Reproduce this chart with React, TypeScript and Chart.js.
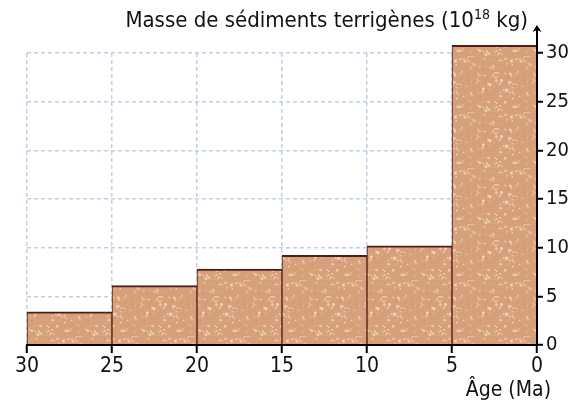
import React, { useEffect, useRef } from "react";
import { Chart, registerables } from "chart.js";

Chart.register(...registerables);

// ---- data ----
const binStarts = [30, 25, 20, 15, 10, 5];
const binEnds = [25, 20, 15, 10, 5, 0];
const masses = [3.4, 6.1, 7.8, 9.2, 10.2, 30.8];
const xTicks = [30, 25, 20, 15, 10, 5, 0];
const yTicks = [0, 5, 10, 15, 20, 25, 30];
const yTitleMain = "Masse de sédiments terrigènes (10";
const yTitleSup = "18";
const yTitleEnd = " kg)";
const xTitle = "Âge (Ma)";

const FONT = "'Liberation Sans Narrow', 'DejaVu Sans Condensed', Roboto, sans-serif";
const GRID = "rgba(184,202,226,0.9)";

function makePattern(): CanvasPattern | string {
  const c = document.createElement("canvas");
  c.width = 56;
  c.height = 56;
  const g = c.getContext("2d");
  if (!g) return "#d8a27a";
  g.fillStyle = "#d6a07a";
  g.fillRect(0, 0, 56, 56);
  let s = 987654;
  const rnd = () => {
    s = (s * 16807) % 2147483647;
    return s / 2147483647;
  };
  for (let i = 0; i < 90; i++) {
    const x = rnd() * 56;
    const y = rnd() * 56;
    g.fillStyle = `rgba(250,228,206,${0.35 + rnd() * 0.45})`;
    g.beginPath();
    g.arc(x, y, 0.5 + rnd() * 1.1, 0, Math.PI * 2);
    g.fill();
  }
  g.lineWidth = 0.9;
  for (let i = 0; i < 14; i++) {
    const x = rnd() * 56;
    const y = rnd() * 56;
    g.strokeStyle = `rgba(250,232,214,${0.5 + rnd() * 0.4})`;
    g.beginPath();
    g.arc(x, y, 1.5 + rnd() * 1.5, rnd() * 3, rnd() * 3 + 3.5);
    g.stroke();
  }
  for (let i = 0; i < 18; i++) {
    const x = rnd() * 56;
    const y = rnd() * 56;
    g.fillStyle = `rgba(165,95,65,${0.3 + rnd() * 0.3})`;
    g.fillRect(x, y, 1, 1);
  }
  return g.createPattern(c, "repeat") || "#d8a27a";
}

const decorations = {
  id: "decorations",
  afterDraw(chart: any) {
    const { ctx, chartArea } = chart;
    const { left, right, top, bottom } = chartArea;
    ctx.save();
    ctx.strokeStyle = "#000";
    ctx.fillStyle = "#000";
    ctx.lineWidth = 2;
    // x axis line
    ctx.beginPath();
    ctx.moveTo(left - 1, bottom);
    ctx.lineTo(right + 1, bottom);
    ctx.stroke();
    // y axis line with arrow
    const arrowTop = top - 28;
    ctx.beginPath();
    ctx.moveTo(right, bottom + 1);
    ctx.lineTo(right, arrowTop + 5);
    ctx.stroke();
    ctx.beginPath();
    ctx.moveTo(right, arrowTop);
    ctx.lineTo(right - 4.5, arrowTop + 7);
    ctx.lineTo(right, arrowTop + 5);
    ctx.lineTo(right + 4.5, arrowTop + 7);
    ctx.closePath();
    ctx.fill();

    // y title (right aligned)
    ctx.fillStyle = "#111";
    ctx.textBaseline = "alphabetic";
    const base = 27;
    const endX = right - 9;
    ctx.font = `22px ${FONT}`;
    const wEnd = ctx.measureText(yTitleEnd).width;
    ctx.textAlign = "left";
    ctx.fillText(yTitleEnd, endX - wEnd, base);
    ctx.font = `14px ${FONT}`;
    const wSup = ctx.measureText(yTitleSup).width;
    ctx.fillText(yTitleSup, endX - wEnd - wSup, base - 8);
    ctx.font = `22px ${FONT}`;
    const wMain = ctx.measureText(yTitleMain).width;
    ctx.fillText(yTitleMain, endX - wEnd - wSup - wMain, base);

    // x title
    ctx.font = `21px ${FONT}`;
    ctx.textAlign = "right";
    ctx.fillText(xTitle, right + 14, bottom + 51);
    ctx.restore();
  },
};

export default function App() {
  const ref = useRef<HTMLCanvasElement | null>(null);

  useEffect(() => {
    if (!ref.current) return;
    const pattern = makePattern();
    const chart = new Chart(ref.current, {
      type: "bar",
      data: {
        datasets: [
          {
            data: binStarts.map((s, i) => ({ x: (s + binEnds[i]) / 2, y: masses[i] })),
            backgroundColor: pattern as any,
            borderColor: "#5a1a10",
            borderWidth: { top: 2, left: 1, right: 1, bottom: 0 },
            borderSkipped: false,
            barPercentage: 1,
            categoryPercentage: 1,
            clip: false,
          } as any,
        ],
      },
      options: {
        animation: false,
        responsive: true,
        maintainAspectRatio: false,
        layout: { padding: { top: 53, left: 27, right: 0, bottom: 0 } },
        plugins: { legend: { display: false }, tooltip: { enabled: false } },
        scales: {
          x: {
            type: "linear",
            reverse: true,
            min: 0,
            max: 30,
            offset: false,
            afterBuildTicks: (s: any) => {
              s.ticks = xTicks.map((v) => ({ value: v }));
            },
            afterFit: (s: any) => {
              s.height = 55;
            },
            ticks: {
              autoSkip: false,
              maxRotation: 0,
              color: "#111",
              padding: 1,
              font: { size: 21, family: FONT },
            },
            grid: {
              offset: false,
              color: GRID,
              lineWidth: 1.5,
              tickLength: 8,
              tickColor: "#000",
              tickWidth: 2,
            },
            border: { display: false, dash: [4, 3] },
          } as any,
          y: {
            position: "right",
            min: 0,
            max: 30,
            afterBuildTicks: (s: any) => {
              s.ticks = yTicks.map((v) => ({ value: v }));
            },
            afterFit: (s: any) => {
              s.width = 43;
            },
            ticks: {
              color: "#111",
              padding: 3,
              font: { size: 20, family: FONT },
            },
            grid: {
              offset: false,
              color: GRID,
              lineWidth: 1.5,
              tickLength: 6,
              tickColor: "#000",
              tickWidth: 2,
            },
            border: { display: false, dash: [4, 3] },
          } as any,
        },
      },
      plugins: [decorations],
    });
    return () => chart.destroy();
  }, []);

  return (
    <div style={{ position: "absolute", left: 0, top: 0, width: 580, height: 400, background: "#fff" }}>
      <canvas ref={ref} />
    </div>
  );
}
